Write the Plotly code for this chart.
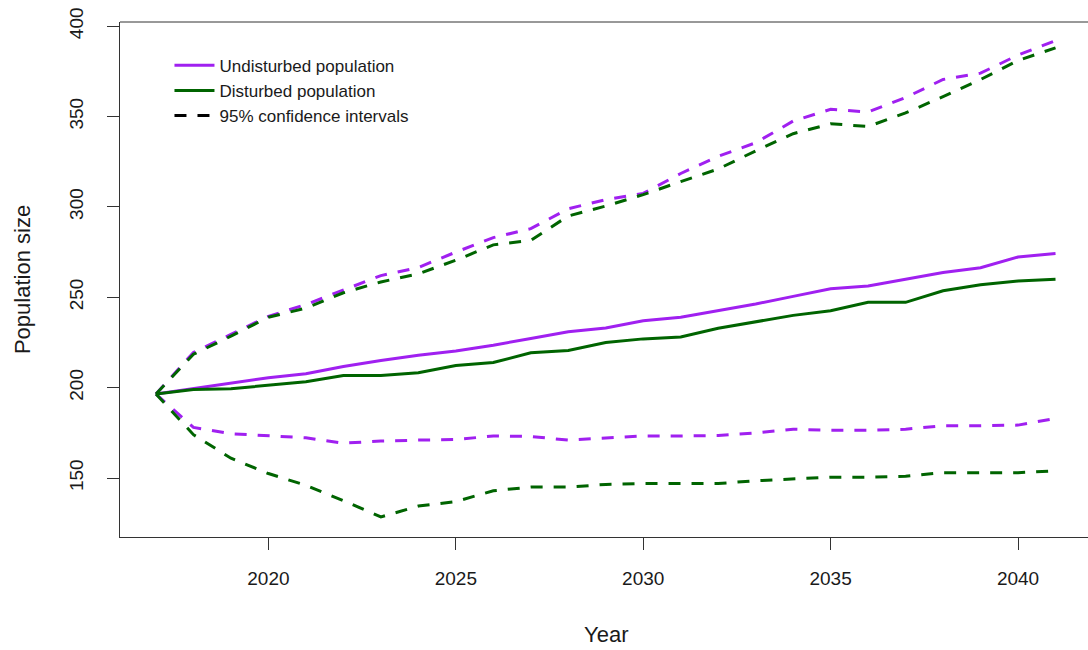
import plotly.graph_objects as go

# Simulated population trajectories, 2017-2041
years = list(range(2017, 2042))

undisturbed_mean = [196.5, 199.5, 202.5, 205.5, 207.7, 211.7, 215, 218, 220.3, 223.5,
                    227.2, 231, 233, 237, 239, 242.6, 246.3, 250.5, 254.7, 256.3,
                    260, 263.7, 266.4, 272.3, 274.2]
undisturbed_upper = [196.5, 219.5, 229.5, 239.5, 246, 254, 262, 266.5, 275, 283,
                     288, 299, 304, 307.5, 318.5, 328, 335.5, 347.5, 354, 352.5,
                     360.5, 370.5, 374, 384, 392]
undisturbed_lower = [196.5, 178, 174.5, 173.3, 172.3, 169.3, 170.5, 171, 171.3, 173.3,
                     173, 171, 172.3, 173.3, 173.3, 173.5, 175, 177, 176.5, 176.5,
                     177, 179, 179, 179.3, 183]

disturbed_mean = [196.5, 199, 199.4, 201.3, 203.3, 206.8, 206.8, 208.3, 212.3, 213.9,
                  219.3, 220.6, 225, 227, 228, 232.9, 236.4, 240, 242.6, 247.2,
                  247.2, 253.6, 256.9, 259, 260]
disturbed_upper = [196.5, 218.5, 228.5, 239, 244, 252.5, 258.5, 263, 270.5, 279,
                   281.5, 295, 300.5, 306.8, 314, 321, 331, 340.5, 346, 344.5,
                   352, 361, 370.5, 381, 388]
disturbed_lower = [196.5, 174, 161, 152.5, 146, 137.5, 128.5, 134.5, 137, 143,
                   145, 145, 146.5, 147, 147, 147, 148.5, 149.5, 150.5, 150.5,
                   151, 153, 153, 153, 154]

x_ticks = [2020, 2025, 2030, 2035, 2040]
y_ticks = [150, 200, 250, 300, 350, 400]

PURPLE = "#A020F0"
GREEN = "#006400"
DASH = "12px,11px"
FONT = "Liberation Sans, Arial, sans-serif"

fig = go.Figure()

fig.add_trace(go.Scatter(x=years, y=undisturbed_mean, mode="lines",
                         line=dict(color=PURPLE, width=3),
                         name="Undisturbed population"))
fig.add_trace(go.Scatter(x=years, y=undisturbed_upper, mode="lines",
                         line=dict(color=PURPLE, width=3, dash=DASH), showlegend=False))
fig.add_trace(go.Scatter(x=years, y=undisturbed_lower, mode="lines",
                         line=dict(color=PURPLE, width=3, dash=DASH), showlegend=False))
fig.add_trace(go.Scatter(x=years, y=disturbed_mean, mode="lines",
                         line=dict(color=GREEN, width=3),
                         name="Disturbed population"))
fig.add_trace(go.Scatter(x=years, y=disturbed_upper, mode="lines",
                         line=dict(color=GREEN, width=3, dash=DASH), showlegend=False))
fig.add_trace(go.Scatter(x=years, y=disturbed_lower, mode="lines",
                         line=dict(color=GREEN, width=3, dash=DASH), showlegend=False))
# legend key for the interval lines
fig.add_trace(go.Scatter(x=[None], y=[None], mode="lines",
                         line=dict(color="black", width=3, dash=DASH),
                         name="95% confidence intervals"))

W, H = 1088, 650
L, T, B = 119.5, 22, 113
PW, PH = W - L, H - T - B

fig.update_layout(
    width=W, height=H, autosize=False,
    margin=dict(l=L, r=0, t=T, b=B, pad=0),
    paper_bgcolor="white", plot_bgcolor="white",
    font=dict(family=FONT, size=19, color="#1a1a1a"),
    showlegend=True,
    legend=dict(x=(169 - L) / PW, y=0.95, xanchor="left", yanchor="top",
                bgcolor="rgba(0,0,0,0)", font=dict(size=17),
                tracegroupgap=0, itemwidth=40),
    xaxis=dict(range=[2016.04, 2016.04 + PW / 37.5],
               tickvals=x_ticks, ticks="outside", ticklen=12, tickwidth=1,
               tickcolor="#333", showline=True, linecolor="#333", linewidth=1,
               showgrid=False, zeroline=False, tickfont=dict(size=19),
               ticklabelstandoff=12),
    yaxis=dict(range=[117.4, 402.3], tickvals=y_ticks, ticks="outside",
               ticklen=12, tickwidth=1, tickcolor="#333", tickangle=-90,
               showline=True, linecolor="#333", linewidth=1,
               showgrid=False, zeroline=False, tickfont=dict(size=19),
               ticklabelstandoff=16),
    shapes=[dict(type="line", xref="paper", yref="paper", x0=0, x1=1, y0=1, y1=1,
                 line=dict(color="#333", width=1))],
    annotations=[
        dict(text="Year", xref="paper", yref="paper",
             x=(605.5 - L) / PW, y=(537 - 634) / PH,
             xanchor="center", yanchor="middle", showarrow=False,
             font=dict(size=22)),
        dict(text="Population size", xref="paper", yref="paper",
             x=(22 - L) / PW, y=0.5, textangle=-90,
             xanchor="center", yanchor="middle", showarrow=False,
             font=dict(size=22)),
    ],
)

fig.write_html("out.html")
